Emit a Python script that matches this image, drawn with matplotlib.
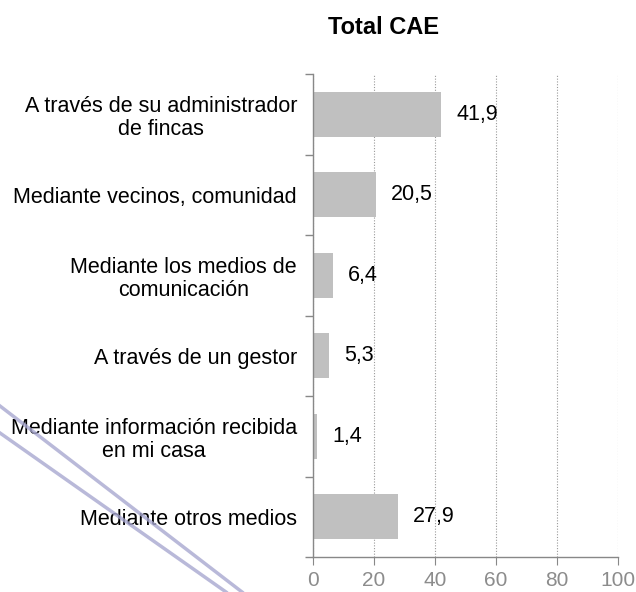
import matplotlib
matplotlib.use("Agg")
import matplotlib.pyplot as plt
from matplotlib.lines import Line2D

categories = [
    "A través de su administrador\nde fincas",
    "Mediante vecinos, comunidad",
    "Mediante los medios de\ncomunicación",
    "A través de un gestor",
    "Mediante información recibida\nen mi casa",
    "Mediante otros medios",
]
values = [41.9, 20.5, 6.4, 5.3, 1.4, 27.9]
value_labels = ["41,9", "20,5", "6,4", "5,3", "1,4", "27,9"]
xticks = [0, 20, 40, 60, 80, 100]
title = "Total CAE"

plt.rcParams['font.family'] = ['Liberation Sans', 'DejaVu Sans']

W, H = 636, 592
fig = plt.figure(figsize=(W / 100, H / 100), dpi=100)
x0, x1 = 313, 618
y0, y1 = 74, 557
ax = fig.add_axes([x0 / W, 1 - y1 / H, (x1 - x0) / W, (y1 - y0) / H])

n = len(categories)
pos = list(range(n))
ax.barh(pos, values, height=0.56, color="#c0c0c0", zorder=2)
ax.set_ylim(n - 0.5, -0.5)
ax.set_xlim(0, 100)

for p, v, lab in zip(pos, values, value_labels):
    ax.text(v + 5, p, lab, va="center", ha="left", fontsize=15.5, color="black", zorder=3)

ax.set_yticks(pos)
ax.set_yticklabels(categories, fontsize=15.5)
for t in ax.get_yticklabels():
    t.set_ha("right")
    t.set_multialignment("center")
    t.set_linespacing(1.15)
ax.tick_params(axis="y", length=0, pad=11.5)
# category boundary ticks
ax.set_yticks([i - 0.5 for i in range(n + 1)], minor=True)
ax.tick_params(axis="y", which="minor", length=6, color="#888888", width=1, direction="out")

ax.set_xticks(xticks)
ax.set_xticklabels([str(x) for x in xticks], fontsize=15, color="#8c8c8c")
ax.tick_params(axis="x", length=6, direction="out", color="#888888", pad=4)

ax.grid(axis="x", linestyle=(0, (1, 1.5)), color="#999999", linewidth=0.8, zorder=0)
ax.set_axisbelow(True)
for s in ["top", "right"]:
    ax.spines[s].set_visible(False)
for s in ["left", "bottom"]:
    ax.spines[s].set_color("#888888")
    ax.spines[s].set_linewidth(1)

fig.text(384 / W, 1 - 28 / H, title, fontsize=17, fontweight="bold", ha="center", va="center")

# watermark swoosh lines
for (xa, ya, xb, yb) in [(0, 406, 242, 592), (0, 433, 226, 592)]:
    fig.add_artist(Line2D([xa / W, xb / W], [1 - ya / H, 1 - yb / H], transform=fig.transFigure,
                          color="#a8a8d0", linewidth=2.5, alpha=0.8, zorder=10))

fig.savefig("out.png", dpi=100)
